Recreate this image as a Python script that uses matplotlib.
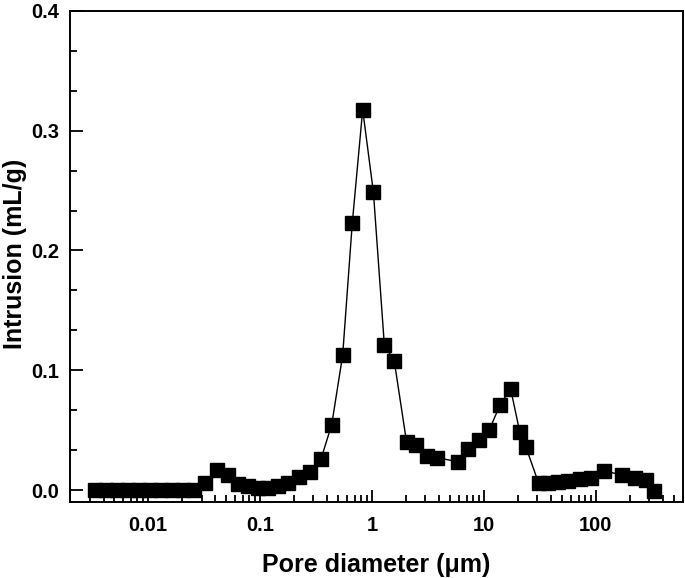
import numpy as np
import matplotlib.pyplot as plt
from matplotlib.ticker import LogLocator, MultipleLocator, FixedLocator, FixedFormatter, NullFormatter

plt.rcParams['font.family'] = ['Liberation Sans', 'DejaVu Sans']
plt.rcParams['font.weight'] = 'bold'

# pore diameter (um) and incremental intrusion (mL/g)
diameter = [0.00336, 0.0042, 0.0053, 0.0066, 0.0083, 0.0104, 0.013, 0.0164, 0.0206, 0.0258,
            0.032, 0.041, 0.052, 0.064, 0.078, 0.096, 0.119, 0.146, 0.179, 0.224,
            0.279, 0.35, 0.437, 0.547, 0.667, 0.826, 1.03, 1.29, 1.58, 2.04,
            2.48, 3.1, 3.8, 5.9, 7.24, 9.0, 11.2, 13.9, 17.3, 20.9,
            23.7, 30.8, 37.5, 46, 56.6, 72, 89.6, 118, 173, 223,
            279, 330]
intrusion = [0.0, 0.0, 0.0, 0.0, 0.0, 0.0, 0.0, 0.0, 0.0, 0.0,
             0.0056, 0.0167, 0.0125, 0.005, 0.003, 0.002, 0.002, 0.003, 0.0056, 0.0105,
             0.0153, 0.0258, 0.0547, 0.1125, 0.223, 0.3175, 0.2486, 0.121, 0.108, 0.0397,
             0.038, 0.028, 0.027, 0.0236, 0.034, 0.042, 0.0505, 0.0708, 0.0847, 0.0486,
             0.036, 0.0058, 0.006, 0.0067, 0.0075, 0.009, 0.0097, 0.016, 0.0125, 0.0097,
             0.0083, -0.0005]

fig = plt.figure(figsize=(6.85, 5.78), dpi=100)
ax = fig.add_axes([0.102, 0.1315, 0.895, 0.8495])

ax.plot(diameter, intrusion, color='black', linewidth=1.0,
        marker='s', markersize=9.6, markerfacecolor='black', markeredgecolor='black')

ax.set_xscale('log')
ax.set_xlim(0.002, 600)
ax.set_ylim(-0.01, 0.4)

ax.xaxis.set_major_locator(FixedLocator([0.01, 0.1, 1, 10, 100]))
ax.xaxis.set_major_formatter(FixedFormatter(['0.01', '0.1', '1', '10', '100']))
ax.xaxis.set_minor_locator(LogLocator(base=10, subs=np.arange(2, 10), numticks=20))
ax.xaxis.set_minor_formatter(NullFormatter())

ax.yaxis.set_major_locator(MultipleLocator(0.1))
ax.yaxis.set_minor_locator(MultipleLocator(0.1 / 3))
ax.yaxis.set_major_formatter(plt.FuncFormatter(lambda v, p: '%.1f' % v))

ax.tick_params(which='both', direction='in', top=False, right=False, width=1.3, labelsize=14.5)
ax.tick_params(which='major', length=9)
ax.tick_params(which='minor', length=5)
ax.tick_params(axis='x', which='major', pad=10)
ax.tick_params(axis='y', which='major', pad=8)
for s in ax.spines.values():
    s.set_linewidth(1.4)

ax.set_xlabel('Pore diameter (\u03bcm)', fontsize=18, fontweight='bold', labelpad=13)
# y label placed by hand so it sits against the left edge like the original
fig.text(22 / 685, 0.5614, 'Intrusion (mL/g)', fontsize=18, fontweight='bold',
         rotation=90, rotation_mode='anchor', ha='center', va='baseline')

fig.savefig('out.png', dpi=100)
